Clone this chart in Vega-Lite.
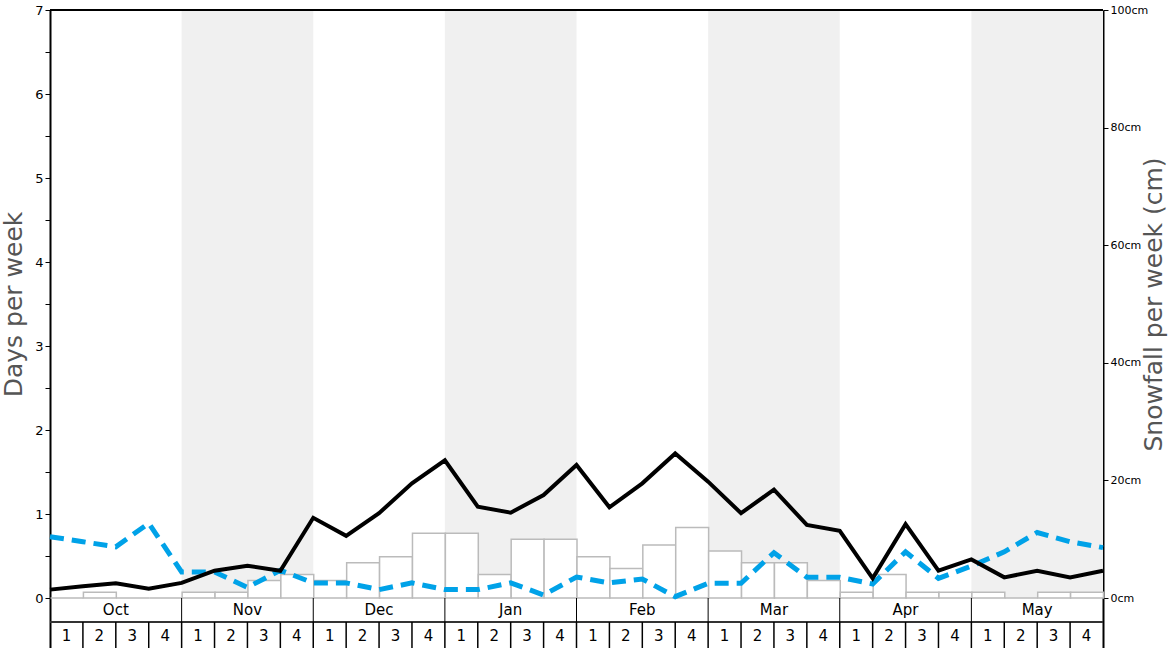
{
  "$schema": "https://vega.github.io/schema/vega-lite/v6.json",
  "width": 1053,
  "height": 638,
  "autosize": {"type": "none"},
  "padding": {"left": 50, "top": 10, "right": 65, "bottom": 0},
  "background": "white",
  "config": {"view": {"stroke": null}, "font": "DejaVu Sans"},
  "datasets": {
    "months": [
      {"month": "Oct", "start": 0, "end": 4, "shade": false},
      {"month": "Nov", "start": 4, "end": 8, "shade": true},
      {"month": "Dec", "start": 8, "end": 12, "shade": false},
      {"month": "Jan", "start": 12, "end": 16, "shade": true},
      {"month": "Feb", "start": 16, "end": 20, "shade": false},
      {"month": "Mar", "start": 20, "end": 24, "shade": true},
      {"month": "Apr", "start": 24, "end": 28, "shade": false},
      {"month": "May", "start": 28, "end": 32, "shade": true}
    ],
    "weeks": [
      {"w": 0, "wk": 1, "cm": 0}, {"w": 1, "wk": 2, "cm": 1}, {"w": 2, "wk": 3, "cm": 0}, {"w": 3, "wk": 4, "cm": 0},
      {"w": 4, "wk": 1, "cm": 1}, {"w": 5, "wk": 2, "cm": 1}, {"w": 6, "wk": 3, "cm": 3}, {"w": 7, "wk": 4, "cm": 4},
      {"w": 8, "wk": 1, "cm": 3}, {"w": 9, "wk": 2, "cm": 6}, {"w": 10, "wk": 3, "cm": 7}, {"w": 11, "wk": 4, "cm": 11},
      {"w": 12, "wk": 1, "cm": 11}, {"w": 13, "wk": 2, "cm": 4}, {"w": 14, "wk": 3, "cm": 10}, {"w": 15, "wk": 4, "cm": 10},
      {"w": 16, "wk": 1, "cm": 7}, {"w": 17, "wk": 2, "cm": 5}, {"w": 18, "wk": 3, "cm": 9}, {"w": 19, "wk": 4, "cm": 12},
      {"w": 20, "wk": 1, "cm": 8}, {"w": 21, "wk": 2, "cm": 6}, {"w": 22, "wk": 3, "cm": 6}, {"w": 23, "wk": 4, "cm": 3},
      {"w": 24, "wk": 1, "cm": 1}, {"w": 25, "wk": 2, "cm": 4}, {"w": 26, "wk": 3, "cm": 1}, {"w": 27, "wk": 4, "cm": 1},
      {"w": 28, "wk": 1, "cm": 1}, {"w": 29, "wk": 2, "cm": 0}, {"w": 30, "wk": 3, "cm": 1}, {"w": 31, "wk": 4, "cm": 1}
    ],
    "pts": [
      {"i": 0, "a": 0.1, "b": 0.73}, {"i": 1, "a": 0.14, "b": 0.67}, {"i": 2, "a": 0.175, "b": 0.61}, {"i": 3, "a": 0.11, "b": 0.89},
      {"i": 4, "a": 0.18, "b": 0.31}, {"i": 5, "a": 0.325, "b": 0.31}, {"i": 6, "a": 0.385, "b": 0.127}, {"i": 7, "a": 0.325, "b": 0.33},
      {"i": 8, "a": 0.955, "b": 0.18}, {"i": 9, "a": 0.74, "b": 0.18}, {"i": 10, "a": 1.01, "b": 0.1}, {"i": 11, "a": 1.365, "b": 0.18},
      {"i": 12, "a": 1.64, "b": 0.1}, {"i": 13, "a": 1.087, "b": 0.1}, {"i": 14, "a": 1.016, "b": 0.18}, {"i": 15, "a": 1.226, "b": 0.036},
      {"i": 16, "a": 1.583, "b": 0.25}, {"i": 17, "a": 1.08, "b": 0.18}, {"i": 18, "a": 1.365, "b": 0.226}, {"i": 19, "a": 1.72, "b": 0.016},
      {"i": 20, "a": 1.385, "b": 0.175}, {"i": 21, "a": 1.01, "b": 0.175}, {"i": 22, "a": 1.29, "b": 0.54}, {"i": 23, "a": 0.87, "b": 0.246},
      {"i": 24, "a": 0.8, "b": 0.246}, {"i": 25, "a": 0.234, "b": 0.167}, {"i": 26, "a": 0.88, "b": 0.55}, {"i": 27, "a": 0.325, "b": 0.234},
      {"i": 28, "a": 0.46, "b": 0.38}, {"i": 29, "a": 0.246, "b": 0.55}, {"i": 30, "a": 0.325, "b": 0.78}, {"i": 31, "a": 0.246, "b": 0.67},
      {"i": 32, "a": 0.325, "b": 0.6}
    ]
  },
  "resolve": {"scale": {"y": "independent"}},
  "layer": [
    {
      "layer": [
        {
          "data": {"name": "months"},
          "transform": [{"filter": "datum.shade"}],
          "mark": {"type": "rect", "color": "#f0f0f0"},
          "encoding": {
            "x": {"field": "start", "type": "quantitative", "scale": {"domain": [0, 32], "nice": false, "zero": false}, "axis": null},
            "x2": {"field": "end"},
            "y": {"datum": 0, "type": "quantitative"},
            "y2": {"datum": 100}
          }
        },
        {
          "data": {"name": "weeks"},
          "mark": {"type": "bar", "fill": "white", "stroke": "#bbbbbb", "strokeWidth": 1.5, "binSpacing": 0},
          "encoding": {
            "x": {"field": "w", "type": "quantitative", "bin": {"binned": true, "step": 1}},
            "y": {
              "field": "cm", "type": "quantitative",
              "scale": {"domain": [-8.5, 100], "nice": false, "zero": false},
              "axis": {
                "orient": "right", "values": [0, 20, 40, 60, 80, 100],
                "labelExpr": "datum.value + 'cm'",
                "title": "Snowfall per week (cm)", "titleAngle": 270, "titleBaseline": "alphabetic",
                "titleX": 58, "titleY": 294, "titleFontSize": 25, "titleColor": "#555555", "titleFontWeight": "normal",
                "labelFontSize": 11, "labelColor": "#000000", "tickColor": "#000000", "domainColor": "#000000",
                "domainWidth": 2, "tickSize": 5, "grid": false
              }
            }
          }
        }
      ]
    },
    {
      "layer": [
        {
          "data": {"name": "pts"},
          "mark": {"type": "line", "color": "#00a2e8", "strokeWidth": 5, "strokeDash": [14, 8]},
          "encoding": {
            "x": {"field": "i", "type": "quantitative"},
            "y": {
              "field": "b", "type": "quantitative",
              "scale": {"domain": [-0.595, 7], "nice": false, "zero": false},
              "axis": {
                "orient": "left", "values": [0, 0.5, 1, 1.5, 2, 2.5, 3, 3.5, 4, 4.5, 5, 5.5, 6, 6.5, 7],
                "labelExpr": "datum.value % 1 === 0 ? format(datum.value, 'd') : ''",
                "title": "Days per week", "titleAngle": 270, "titleBaseline": "alphabetic",
                "titleX": -29, "titleY": 294, "titleFontSize": 25,
                "titleColor": "#555555", "titleFontWeight": "normal",
                "labelFontSize": 13, "labelColor": "#000000", "tickColor": "#000000", "domainColor": "#000000",
                "domainWidth": 2, "tickSize": 5, "grid": false
              }
            }
          }
        },
        {
          "data": {"name": "pts"},
          "mark": {"type": "line", "color": "black", "strokeWidth": 4, "strokeJoin": "miter"},
          "encoding": {
            "x": {"field": "i", "type": "quantitative"},
            "y": {"field": "a", "type": "quantitative"}
          }
        },
        {
          "data": {"values": [{}]},
          "mark": {"type": "rule", "color": "black", "strokeWidth": 2},
          "encoding": {"y": {"datum": 7}}
        },
        {
          "data": {"values": [{}]},
          "mark": {"type": "rule", "color": "#333333", "strokeWidth": 2},
          "encoding": {"y": {"datum": -0.2857}}
        },
        {
          "data": {"name": "months"},
          "transform": [{"filter": "datum.start > 0"}],
          "mark": {"type": "rule", "color": "black", "strokeWidth": 1},
          "encoding": {
            "x": {"field": "start", "type": "quantitative"},
            "y": {"datum": 0},
            "y2": {"datum": -0.2857}
          }
        },
        {
          "data": {"name": "weeks"},
          "transform": [{"filter": "datum.w > 0"}],
          "mark": {"type": "rule", "color": "black", "strokeWidth": 1.5},
          "encoding": {
            "x": {"field": "w", "type": "quantitative"},
            "y": {"datum": -0.2857},
            "y2": {"datum": -0.595}
          }
        },
        {
          "data": {"name": "months"},
          "mark": {"type": "text", "fontSize": 15, "color": "black", "dx": 65.8, "baseline": "middle", "align": "center"},
          "encoding": {
            "x": {"field": "start", "type": "quantitative"},
            "y": {"datum": -0.143},
            "text": {"field": "month"}
          }
        },
        {
          "data": {"name": "weeks"},
          "mark": {"type": "text", "fontSize": 15, "color": "black", "dx": 16.45, "baseline": "middle", "align": "center"},
          "encoding": {
            "x": {"field": "w", "type": "quantitative"},
            "y": {"datum": -0.452},
            "text": {"field": "wk"}
          }
        }
      ]
    }
  ]
}
